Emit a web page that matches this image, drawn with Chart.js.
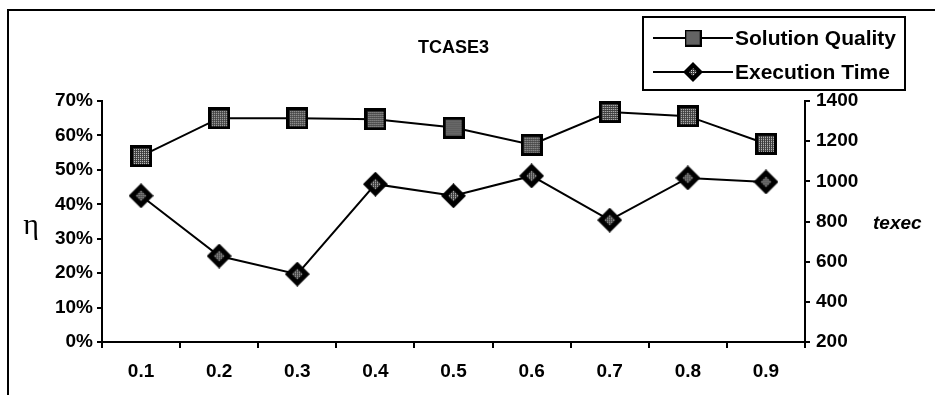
<!DOCTYPE html>
<html lang="en">
<head>
    <meta charset="UTF-8">
    <title>TCASE3</title>
    <script src="https://cdn.jsdelivr.net/npm/chart.js@4.4.1/dist/chart.umd.min.js"></script>
    <style>
        html, body { margin: 0; padding: 0; background: #ffffff; }
    </style>
</head>
<body>
    <canvas id="canvas" width="935" height="395"></canvas>
    <script>
        const labels = ['0.1', '0.2', '0.3', '0.4', '0.5', '0.6', '0.7', '0.8', '0.9']
        // solution quality, percent (left axis)
        const qualityValues = [54, 65, 65, 64.7, 62.3, 57.3, 66.8, 65.6, 57.6]
        // execution time (right axis)
        const timeValues = [928, 628, 538, 986, 928, 1027, 807, 1017, 997]
        const leftTicks = [0, 10, 20, 30, 40, 50, 60, 70]
        const rightTicks = [200, 400, 600, 800, 1000, 1200, 1400]

        const font = "'Liberation Sans', Arial, sans-serif"

        // dotted grey fill used inside the markers
        const makeFill = (ctx) => {
            const tile = document.createElement('canvas')
            tile.width = 2
            tile.height = 2
            const t = tile.getContext('2d')
            t.fillStyle = '#3c3c3c'
            t.fillRect(0, 0, 2, 2)
            t.fillStyle = '#d8d8d8'
            t.fillRect(0, 0, 1, 1)
            return ctx.createPattern(tile, 'repeat')
        }

        const squareMarker = (side, b) => {
            const c = document.createElement('canvas')
            c.width = side
            c.height = side
            const ctx = c.getContext('2d')
            ctx.fillStyle = '#000'
            ctx.fillRect(0, 0, side, side)
            ctx.fillStyle = makeFill(ctx)
            ctx.fillRect(b, b, side - 2 * b, side - 2 * b)
            return c
        }

        const diamondMarker = (size, k) => {
            const c = document.createElement('canvas')
            c.width = size
            c.height = size
            const ctx = c.getContext('2d')
            const h = size / 2
            ctx.beginPath()
            ctx.moveTo(h, 0)
            ctx.lineTo(size, h)
            ctx.lineTo(h, size)
            ctx.lineTo(0, h)
            ctx.closePath()
            ctx.fillStyle = '#000'
            ctx.fill()
            ctx.beginPath()
            ctx.moveTo(h, k)
            ctx.lineTo(size - k, h)
            ctx.lineTo(h, size - k)
            ctx.lineTo(k, h)
            ctx.closePath()
            ctx.fillStyle = makeFill(ctx)
            ctx.fill()
            return c
        }

        const sqBig = squareMarker(22, 3)
        const dmBig = diamondMarker(25, 7)
        const sqSmall = squareMarker(17, 2)
        const dmSmall = diamondMarker(20, 6)

        const decor = {
            id: 'decor',
            afterDraw: (chart) => {
                const ctx = chart.ctx
                const area = chart.chartArea
                ctx.save()
                // outer frame
                ctx.strokeStyle = '#000'
                ctx.lineWidth = 2
                ctx.beginPath()
                ctx.moveTo(8, 395)
                ctx.lineTo(8, 10)
                ctx.lineTo(935, 10)
                ctx.stroke()

                // title
                ctx.fillStyle = '#000'
                ctx.font = 'bold 18px ' + font
                ctx.textAlign = 'center'
                ctx.textBaseline = 'middle'
                ctx.fillText('TCASE3', (area.left + area.right) / 2, 48)

                // axis titles
                ctx.font = "30px 'Liberation Serif', serif"
                ctx.fillText('η', 31, 226)
                ctx.font = 'italic bold 19px ' + font
                ctx.textAlign = 'left'
                ctx.fillText('texec', 873, 224)

                // legend
                ctx.lineWidth = 2
                ctx.strokeRect(643, 17, 262, 73)
                const rows = [
                    { text: 'Solution Quality', y: 38, img: sqSmall },
                    { text: 'Execution Time', y: 72, img: dmSmall }
                ]
                ctx.font = 'bold 21px ' + font
                rows.forEach(r => {
                    ctx.beginPath()
                    ctx.moveTo(653, r.y)
                    ctx.lineTo(733, r.y)
                    ctx.stroke()
                    ctx.drawImage(r.img, 693 - r.img.width / 2, r.y - r.img.height / 2)
                    ctx.fillText(r.text, 735, r.y + 1)
                })
                ctx.restore()
            }
        }

        const tickFont = { family: font, size: 19, weight: 'bold' }

        new Chart(document.getElementById('canvas').getContext('2d'), {
            type: 'line',
            data: {
                labels: labels,
                datasets: [
                    {
                        label: 'Solution Quality',
                        data: qualityValues,
                        yAxisID: 'y',
                        borderColor: '#000',
                        borderWidth: 2,
                        pointStyle: sqBig,
                        tension: 0
                    },
                    {
                        label: 'Execution Time',
                        data: timeValues,
                        yAxisID: 'y1',
                        borderColor: '#000',
                        borderWidth: 2,
                        pointStyle: dmBig,
                        tension: 0
                    }
                ]
            },
            options: {
                responsive: false,
                animation: false,
                layout: { padding: { top: 101, left: 0, right: 0, bottom: 0 } },
                plugins: {
                    legend: { display: false },
                    title: { display: false },
                    tooltip: { enabled: false }
                },
                scales: {
                    x: {
                        offset: true,
                        grid: { offset: true, drawOnChartArea: false, color: '#000', tickLength: 6, lineWidth: 2 },
                        border: { display: true, color: '#000', width: 2 },
                        ticks: { color: '#000', font: tickFont, padding: 12, maxRotation: 0 },
                        afterFit: (s) => { s.height = 53 }
                    },
                    y: {
                        position: 'left',
                        min: 0,
                        max: 70,
                        afterBuildTicks: (s) => { s.ticks = leftTicks.map(v => ({ value: v })) },
                        grid: { drawOnChartArea: false, color: '#000', tickLength: 5, lineWidth: 2 },
                        border: { display: true, color: '#000', width: 2 },
                        ticks: { color: '#000', font: tickFont, padding: 4, callback: (v) => v + '%' },
                        afterFit: (s) => { s.width = 102 }
                    },
                    y1: {
                        position: 'right',
                        min: 200,
                        max: 1400,
                        afterBuildTicks: (s) => { s.ticks = rightTicks.map(v => ({ value: v })) },
                        grid: { drawOnChartArea: false, color: '#000', tickLength: 5, lineWidth: 2 },
                        border: { display: true, color: '#000', width: 2 },
                        ticks: { color: '#000', font: tickFont, padding: 6, callback: (v) => String(v) },
                        afterFit: (s) => { s.width = 130 }
                    }
                }
            },
            plugins: [decor]
        })
    </script>
</body>
</html>
